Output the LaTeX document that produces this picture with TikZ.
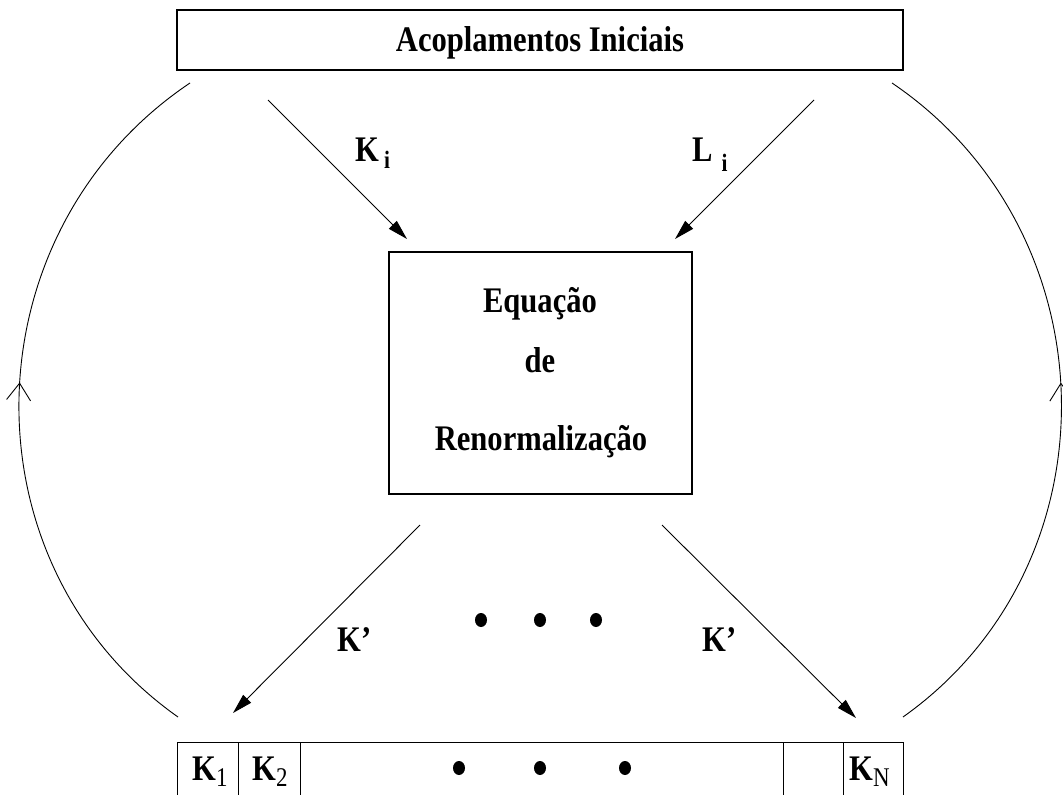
\documentclass[tikz,border=0pt]{standalone}
\usepackage{fontspec}
\setmainfont{Liberation Serif}
\newfontfamily\condfont[FakeStretch=0.85]{Liberation Serif}
\usetikzlibrary{arrows.meta,decorations.markings,shapes.geometric}
\newcommand\bigbf{\condfont\fontsize{36}{42}\selectfont\bfseries}
\newcommand\subbf{\condfont\fontsize{25}{29}\selectfont\bfseries}
\newcommand\subrm{\condfont\fontsize{27}{31}\selectfont\mdseries}
\tikzset{
  boxed/.style={draw, line width=1.2pt, inner sep=0pt},
  txt/.style={font=\bigbf, inner sep=0pt},
  conn/.style={line width=0.9pt, -{Triangle[length=20pt,width=11pt]}},
  loopline/.style={line width=0.9pt, postaction={decorate},
    decoration={markings, mark=at position 0.52 with {\arrow{Straight Barb[length=17pt,width=24pt,line width=0.9pt]}}}},
  blob/.style={fill, ellipse, inner sep=0pt, minimum width=12pt, minimum height=14pt},
  cell/.style={draw, line width=1.2pt, inner sep=0pt, anchor=north west, minimum height=80pt}
}
\begin{document}
\begin{tikzpicture}[x=1pt,y=-1pt]
\useasboundingbox (0,0) rectangle (1063,795);
\clip (0,0) rectangle (1063,795);
% top box
\node[boxed, minimum width=726pt, minimum height=60pt] (top) at (540,40) {};
\node[txt, anchor=base] (toptxt) at (540,51) {Acoplamentos Iniciais};
% central box
\node[boxed, minimum width=303pt, minimum height=242pt] (eq) at (540.5,373) {};
\node[txt, anchor=base] (eq1) at (540,312) {Equação};
\node[txt, anchor=base] (eq2) at (540,372) {de};
\node[txt, anchor=base] (eq3) at (541,450) {Renormalização};
% bottom cells
\node[cell, minimum width=61pt] (c1) at (177,742) {};
\node[cell, minimum width=62pt] (c2) at (238,742) {};
\node[cell, minimum width=483pt] (c3) at (300,742) {};
\node[cell, minimum width=60pt] (c4) at (783,742) {};
\node[cell, minimum width=60pt] (c5) at (843,742) {};
\node[txt, anchor=base west] (k1) at (192,780) {K\raisebox{-6pt}{\subrm 1}};
\node[txt, anchor=base west] (k2) at (252,780) {K\raisebox{-6pt}{\subrm 2}};
\node[txt, anchor=base west] (kn) at (849,780) {K\raisebox{-6pt}{\subrm N}};
\node[blob] (d1) at (459,768) {};
\node[blob] (d2) at (540,768) {};
\node[blob] (d3) at (625,768) {};
% middle dots
\node[blob] (m1) at (481,620) {};
\node[blob] (m2) at (540,620) {};
\node[blob] (m3) at (596,620) {};
% connector end points
\coordinate (a1s) at (268,100);
\coordinate (a1e) at (407,239);
\coordinate (a2s) at (814,100);
\coordinate (a2e) at (675,239);
\coordinate (b1s) at (420,525);
\coordinate (b1e) at (233,713);
\coordinate (b2s) at (662,525);
\coordinate (b2e) at (856,718);
\draw[conn] (a1s) -- (a1e);
\draw[conn] (a2s) -- (a2e);
\draw[conn] (b1s) -- (b1e);
\draw[conn] (b2s) -- (b2e);
% labels
\node[txt, anchor=base west] (lk) at (355,161) {K\hspace{5pt}\raisebox{-7pt}{\subbf i}};
\node[txt, anchor=base west] (ll) at (692,161) {L\hspace{9pt}\raisebox{-10pt}{\subbf i}};
\node[txt, anchor=base west] (lkp1) at (337,651) {K’};
\node[txt, anchor=base west] (lkp2) at (702,651) {K’};
% feedback arcs
\coordinate (l1) at (178,717);
\coordinate (l2) at (190,83);
\coordinate (r1) at (903,717);
\coordinate (r2) at (892,83);
\draw[loopline] (l1) .. controls (-40,563) and (-32,232) .. (l2);
\draw[loopline] (r1) .. controls (1120,563) and (1112,232) .. (r2);
\end{tikzpicture}
\end{document}
